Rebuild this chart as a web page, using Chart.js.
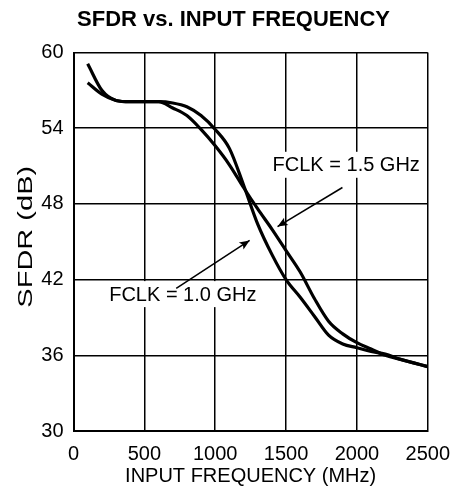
<!DOCTYPE html>
<html>
<head>
<meta charset="utf-8">
<script src="https://cdn.jsdelivr.net/npm/chart.js@4"></script>
<style>
  body { margin: 0; background: #fff; }
</style>
</head>
<body>
<canvas id="sfdr-chart" width="461" height="500"></canvas>
<script>
    // input frequency (MHz)
    const freqs = [100, 200, 300, 400, 500, 600, 700, 800, 900, 1000, 1100, 1200, 1300,
        1400, 1500, 1600, 1700, 1800, 1900, 2000, 2100, 2200, 2300, 2400, 2500];

    // SFDR (dB)
    const sfdr1G0 = [57.6, 56.7, 56.2, 56.1, 56.1, 56.1, 56.0, 55.7, 55.0, 53.9, 52.4, 49.5, 46.4,
        44.0, 42.0, 40.6, 39.1, 37.6, 36.9, 36.6, 36.3, 36.1, 35.7, 35.4, 35.1];
    const sfdr1G5 = [59.1, 57.0, 56.2, 56.1, 56.1, 56.1, 55.6, 55.0, 53.9, 52.6, 51.1, 49.3, 47.6,
        46.0, 44.3, 42.6, 40.5, 38.7, 37.7, 37.0, 36.5, 36.0, 35.7, 35.4, 35.1];

    const xTicks = [0, 500, 1000, 1500, 2000, 2500];
    const yTicks = [30, 36, 42, 48, 54, 60];

    // callouts: label anchor and arrow (tail -> head), in data units
    const notes = [
        { text: 'FCLK = 1.5 GHz', at: [1405, 51.1], from: [1898, 49.3], to: [1440, 46.2] },
        { text: 'FCLK = 1.0 GHz', at: [252, 40.85], from: [725, 41.3], to: [1243, 45.1] }
    ];

    const FONT = '"Liberation Sans", Arial, Helvetica, sans-serif';

    const toPoints = (vals) => freqs.map((f, i) => ({ x: f, y: vals[i] }));

    // title, y axis title (stretched like the scan) and callouts
    const notesPlugin = {
        id: 'notes',
        afterDatasetsDraw(chart) {
            const { ctx, scales: { x, y } } = chart;
            ctx.save();

            ctx.fillStyle = '#000';
            ctx.font = 'bold 22px ' + FONT;
            ctx.textAlign = 'center';
            ctx.textBaseline = 'middle';
            ctx.fillText('SFDR vs. INPUT FREQUENCY', 233.5, 20);

            ctx.save();
            ctx.font = '20px ' + FONT;
            ctx.translate(26, (y.top + y.bottom) / 2 - 5);
            ctx.rotate(-Math.PI / 2);
            ctx.scale(1.45, 1);
            ctx.fillText('SFDR (dB)', 0, 0);
            ctx.restore();

            ctx.font = '20px ' + FONT;
            ctx.textAlign = 'left';
            notes.forEach(n => {
                const tx = x.getPixelForValue(n.at[0]);
                const ty = y.getPixelForValue(n.at[1]);
                const w = ctx.measureText(n.text).width;
                ctx.fillStyle = '#fff';
                ctx.fillRect(tx - 4, ty - 13, w + 8, 26);
                ctx.fillStyle = '#000';
                ctx.fillText(n.text, tx, ty + 1);

                const x0 = x.getPixelForValue(n.from[0]), y0 = y.getPixelForValue(n.from[1]);
                const x1 = x.getPixelForValue(n.to[0]), y1 = y.getPixelForValue(n.to[1]);
                const ang = Math.atan2(y1 - y0, x1 - x0);
                ctx.strokeStyle = '#000';
                ctx.lineWidth = 1.5;
                ctx.beginPath();
                ctx.moveTo(x0, y0);
                ctx.lineTo(x1, y1);
                ctx.stroke();
                ctx.beginPath();
                ctx.moveTo(x1, y1);
                ctx.lineTo(x1 - 11 * Math.cos(ang - 0.4), y1 - 11 * Math.sin(ang - 0.4));
                ctx.lineTo(x1 - 8 * Math.cos(ang), y1 - 8 * Math.sin(ang));
                ctx.lineTo(x1 - 11 * Math.cos(ang + 0.4), y1 - 11 * Math.sin(ang + 0.4));
                ctx.closePath();
                ctx.fill();
            });
            ctx.restore();
        }
    };

    const ctx = document.getElementById('sfdr-chart').getContext('2d');
    new Chart(ctx, {
        type: 'line',
        data: {
            datasets: [
                {
                    label: 'FCLK = 1.0 GHz',
                    data: toPoints(sfdr1G0),
                    borderColor: '#000',
                    borderWidth: 3.2,
                    pointRadius: 0,
                    cubicInterpolationMode: 'monotone',
                    fill: false
                },
                {
                    label: 'FCLK = 1.5 GHz',
                    data: toPoints(sfdr1G5),
                    borderColor: '#000',
                    borderWidth: 3.2,
                    pointRadius: 0,
                    cubicInterpolationMode: 'monotone',
                    fill: false
                }
            ]
        },
        options: {
            responsive: false,
            animation: false,
            layout: { padding: { left: 10, right: 26, top: 52.5, bottom: 12 } },
            plugins: {
                legend: { display: false },
                title: { display: false },
                tooltip: { enabled: false }
            },
            scales: {
                x: {
                    type: 'linear',
                    min: 0,
                    max: 2500,
                    afterBuildTicks: (s) => { s.ticks = xTicks.map(v => ({ value: v })); },
                    afterFit: (s) => { s.height = 57; },
                    ticks: {
                        color: '#000',
                        font: { family: FONT, size: 20 },
                        padding: 11,
                        callback: (v) => String(v)
                    },
                    grid: { color: '#000', lineWidth: 1.5, drawTicks: false },
                    border: { color: '#000', width: 2 },
                    title: {
                        display: true,
                        text: 'INPUT FREQUENCY (MHz)',
                        color: '#000',
                        font: { family: FONT, size: 20 },
                        padding: { top: 0, bottom: 0 }
                    }
                },
                y: {
                    min: 30,
                    max: 60,
                    afterBuildTicks: (s) => { s.ticks = yTicks.map(v => ({ value: v })); },
                    afterFit: (s) => { s.width = 63.5; },
                    ticks: {
                        color: '#000',
                        font: { family: FONT, size: 20 },
                        padding: 10,
                        callback: (v) => String(v)
                    },
                    grid: { color: '#000', lineWidth: 1.5, drawTicks: false },
                    border: { color: '#000', width: 2 },
                    title: { display: false }
                }
            }
        },
        plugins: [notesPlugin]
    });
</script>
</body>
</html>
